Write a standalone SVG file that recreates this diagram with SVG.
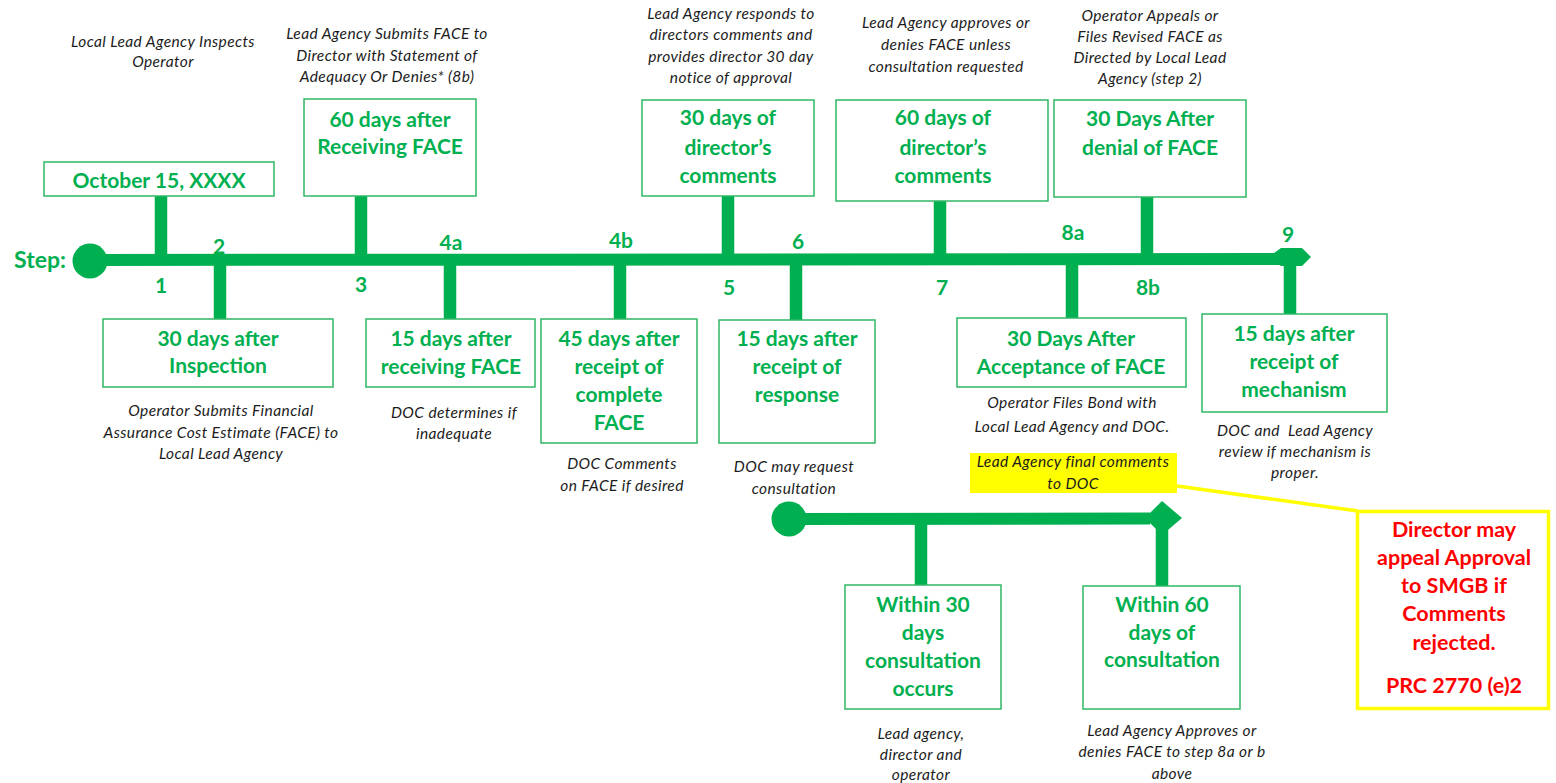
<svg xmlns="http://www.w3.org/2000/svg" width="1556" height="783" viewBox="0 0 1556 783">
<style>
.box{fill:#fff;stroke:#2fb865;stroke-width:1.5}
.bt{font-family:Lato,"Liberation Sans",sans-serif;font-weight:700;font-size:21px;fill:#00B050;text-anchor:middle}
.num{font-family:Lato,"Liberation Sans",sans-serif;font-weight:700;font-size:21px;fill:#00B050;text-anchor:middle}
.it{font-family:Lato,"Liberation Sans",sans-serif;font-style:italic;font-size:15.5px;letter-spacing:0.4px;fill:#1c1c1c;text-anchor:middle}
.red{font-family:Lato,"Liberation Sans",sans-serif;font-weight:700;font-size:21.5px;fill:#FF0000;text-anchor:middle}
.ln{stroke:#00B050;stroke-width:12;fill:none}
.st{stroke:#00B050;stroke-width:12.5;fill:none}
.g{fill:#00B050}
</style>
<rect width="1556" height="783" fill="#fff"/>

<g id="connectors">
  <line class="ln" x1="90" y1="260" x2="1285" y2="259"/>
  <circle class="g" cx="90" cy="261" r="17.5"/>
  <polygon class="g" points="1274,253 1281,248 1302,248 1311,257 1302,266 1281,266 1274,262"/>
  <line class="st" x1="161" y1="196" x2="161" y2="260"/>
  <line class="st" x1="220" y1="260" x2="220" y2="319"/>
  <line class="st" x1="361" y1="196" x2="361" y2="260"/>
  <line class="st" x1="450" y1="260" x2="450" y2="319"/>
  <line class="st" x1="620" y1="260" x2="620" y2="319"/>
  <line class="st" x1="728" y1="196" x2="728" y2="260"/>
  <line class="st" x1="796" y1="260" x2="796" y2="320"/>
  <line class="st" x1="940" y1="201" x2="940" y2="260"/>
  <line class="st" x1="1072" y1="259" x2="1072" y2="318"/>
  <line class="st" x1="1147" y1="197" x2="1147" y2="259"/>
  <line class="st" x1="1290" y1="259" x2="1290" y2="314"/>
  <line class="ln" x1="789" y1="519" x2="1150" y2="518.5"/>
  <circle class="g" cx="789" cy="519" r="17.5"/>
  <polygon class="g" points="1145,518 1162,501 1182,518 1162,535"/>
  <line class="st" x1="921" y1="519" x2="921" y2="585"/>
  <line class="st" x1="1162" y1="518" x2="1162" y2="586"/>
  <line x1="1177" y1="486" x2="1358" y2="511" stroke="#FFFF00" stroke-width="3.5"/>
</g>

<g id="step-labels">
  <text class="num" x="40" y="268" style="font-size:23px">Step:</text>
  <text class="num" x="161" y="293">1</text>
  <text class="num" x="219" y="254">2</text>
  <text class="num" x="361" y="292">3</text>
  <text class="num" x="451" y="250">4a</text>
  <text class="num" x="621" y="248">4b</text>
  <text class="num" x="729" y="295">5</text>
  <text class="num" x="798" y="249">6</text>
  <text class="num" x="942" y="295">7</text>
  <text class="num" x="1073" y="240">8a</text>
  <text class="num" x="1148" y="295">8b</text>
  <text class="num" x="1288" y="242">9</text>
</g>

<g id="node-1">
  <rect class="box" x="44" y="162" width="230" height="34"/>
  <text class="bt" x="159" y="188">October 15, XXXX</text>
  <text class="it"><tspan x="163" y="47">Local Lead Agency Inspects</tspan><tspan x="163" y="67">Operator</tspan></text>
</g>

<g id="node-2">
  <rect class="box" x="103" y="319" width="230" height="68"/>
  <text class="bt"><tspan x="218" y="346">30 days after</tspan><tspan x="218" y="373">Inspection</tspan></text>
  <text class="it"><tspan x="221" y="416">Operator Submits Financial</tspan><tspan x="221" y="438">Assurance Cost Estimate (FACE) to</tspan><tspan x="221" y="459">Local Lead Agency</tspan></text>
</g>

<g id="node-3">
  <rect class="box" x="304" y="99" width="172" height="97"/>
  <text class="bt"><tspan x="390" y="127">60 days after</tspan><tspan x="390" y="154">Receiving FACE</tspan></text>
  <text class="it"><tspan x="387" y="39">Lead Agency Submits FACE to</tspan><tspan x="387" y="61">Director with Statement of</tspan><tspan x="387" y="82">Adequacy Or Denies* (8b)</tspan></text>
</g>

<g id="node-4a">
  <rect class="box" x="366" y="319" width="169" height="68"/>
  <text class="bt"><tspan x="451" y="346">15 days after</tspan><tspan x="451" y="374">receiving FACE</tspan></text>
  <text class="it"><tspan x="454" y="418">DOC determines if</tspan><tspan x="454" y="439">inadequate</tspan></text>
</g>

<g id="node-4b">
  <rect class="box" x="541" y="319" width="156" height="124"/>
  <text class="bt"><tspan x="619" y="346">45 days after</tspan><tspan x="619" y="374">receipt of</tspan><tspan x="619" y="402">complete</tspan><tspan x="619" y="430">FACE</tspan></text>
  <text class="it"><tspan x="622" y="469">DOC Comments</tspan><tspan x="622" y="491">on FACE if desired</tspan></text>
</g>

<g id="node-5">
  <rect class="box" x="642" y="100" width="172" height="96"/>
  <text class="bt"><tspan x="728" y="125">30 days of</tspan><tspan x="728" y="155">director’s</tspan><tspan x="728" y="183">comments</tspan></text>
  <text class="it"><tspan x="731" y="19">Lead Agency responds to</tspan><tspan x="731" y="40">directors comments and</tspan><tspan x="731" y="62">provides director 30 day</tspan><tspan x="731" y="83">notice of approval</tspan></text>
</g>

<g id="node-6">
  <rect class="box" x="719" y="320" width="156" height="123"/>
  <text class="bt"><tspan x="797" y="346">15 days after</tspan><tspan x="797" y="374">receipt of</tspan><tspan x="797" y="402">response</tspan></text>
  <text class="it"><tspan x="794" y="472">DOC may request</tspan><tspan x="794" y="494">consultation</tspan></text>
</g>

<g id="node-7">
  <rect class="box" x="836" y="100" width="212" height="101"/>
  <text class="bt"><tspan x="943" y="125">60 days of</tspan><tspan x="943" y="155">director’s</tspan><tspan x="943" y="183">comments</tspan></text>
  <text class="it"><tspan x="946" y="28">Lead Agency approves or</tspan><tspan x="946" y="50">denies FACE unless</tspan><tspan x="946" y="72">consultation requested</tspan></text>
</g>

<g id="node-8a">
  <rect class="box" x="957" y="318" width="229" height="69"/>
  <text class="bt"><tspan x="1071" y="346">30 Days After</tspan><tspan x="1071" y="374">Acceptance of FACE</tspan></text>
  <text class="it"><tspan x="1072" y="408">Operator Files Bond with</tspan><tspan x="1072" y="432">Local Lead Agency and DOC.</tspan></text>
  <rect x="970" y="453" width="207" height="40" fill="#FFFF00"/>
  <text class="it"><tspan x="1073" y="467">Lead Agency final comments</tspan><tspan x="1073" y="489">to DOC</tspan></text>
</g>

<g id="node-8b">
  <rect class="box" x="1054" y="100" width="192" height="97"/>
  <text class="bt"><tspan x="1150" y="126">30 Days After</tspan><tspan x="1150" y="155">denial of FACE</tspan></text>
  <text class="it"><tspan x="1150" y="21">Operator Appeals or</tspan><tspan x="1150" y="42">Files Revised FACE as</tspan><tspan x="1150" y="63">Directed by Local Lead</tspan><tspan x="1150" y="84">Agency (step 2)</tspan></text>
</g>

<g id="node-9">
  <rect class="box" x="1202" y="314" width="185" height="98"/>
  <text class="bt"><tspan x="1294" y="341">15 days after</tspan><tspan x="1294" y="369">receipt of</tspan><tspan x="1294" y="397">mechanism</tspan></text>
  <text class="it"><tspan x="1295" y="436" style="white-space:pre">DOC and  Lead Agency</tspan><tspan x="1295" y="457">review if mechanism is</tspan><tspan x="1295" y="478">proper.</tspan></text>
</g>

<g id="node-consult-30">
  <rect class="box" x="845" y="585" width="156" height="124"/>
  <text class="bt"><tspan x="923" y="612">Within 30</tspan><tspan x="923" y="640">days</tspan><tspan x="923" y="668">consultation</tspan><tspan x="923" y="696">occurs</tspan></text>
  <text class="it"><tspan x="921" y="739">Lead agency,</tspan><tspan x="921" y="760">director and</tspan><tspan x="921" y="780">operator</tspan></text>
</g>

<g id="node-consult-60">
  <rect class="box" x="1083" y="586" width="157" height="123"/>
  <text class="bt"><tspan x="1162" y="612">Within 60</tspan><tspan x="1162" y="640">days of</tspan><tspan x="1162" y="667">consultation</tspan></text>
  <text class="it"><tspan x="1172" y="736">Lead Agency Approves or</tspan><tspan x="1172" y="757">denies FACE to step 8a or b</tspan><tspan x="1172" y="779">above</tspan></text>
</g>

<g id="node-appeal">
  <rect x="1357.5" y="511.5" width="191" height="197" fill="#fff" stroke="#FFFF00" stroke-width="3.5"/>
  <text class="red"><tspan x="1454" y="537">Director may</tspan><tspan x="1454" y="565">appeal Approval</tspan><tspan x="1454" y="593">to SMGB if</tspan><tspan x="1454" y="621">Comments</tspan><tspan x="1454" y="650">rejected.</tspan><tspan x="1454" y="693">PRC 2770 (e)2</tspan></text>
</g>
</svg>
